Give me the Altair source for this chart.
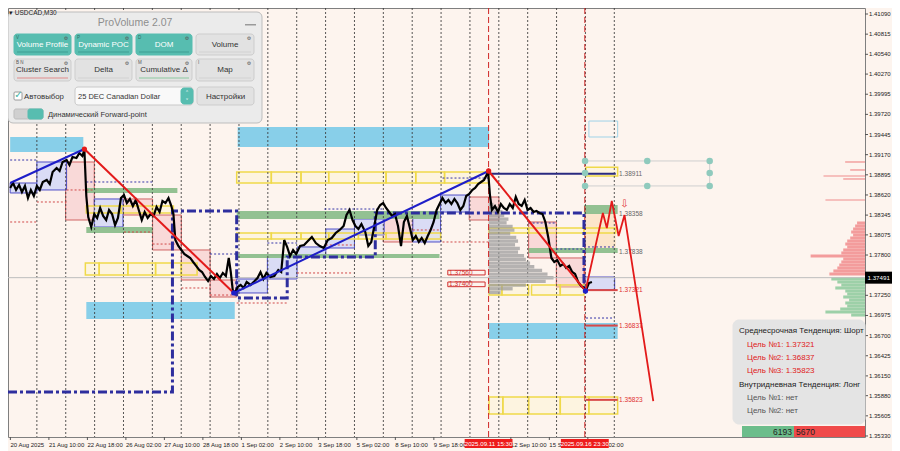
import altair as alt
import pandas as pd

# ------------------------------------------------------------------
# DATA  (time = trading hours since 20 Aug 2025 00:00, value = price)
# ------------------------------------------------------------------
PRICE_H = [1.8, 4.2, 6.7, 9.2, 11.6, 14.1, 16.6, 19.0, 21.5, 24.0,
           26.4, 28.9, 32.2, 34.7, 37.1, 40.4, 42.9, 45.4, 48.7, 51.1,
           53.6, 56.9, 59.3, 61.8, 63.5, 65.1, 66.7, 69.2, 71.7, 74.1,
           76.6, 79.1, 81.6, 84.0, 86.5, 89.0, 91.4, 93.9, 96.4, 98.8,
           101.3, 103.8, 106.2, 108.7, 111.2, 113.6, 116.1, 118.6, 121.0, 123.5,
           126.0, 128.4, 130.9, 133.4, 135.8, 137.5, 139.1, 141.6, 144.1, 146.5,
           149.0, 151.5, 153.9, 156.4, 158.9, 161.3, 163.8, 166.3, 168.7, 171.2,
           173.7, 176.1, 178.6, 181.1, 183.5, 185.2, 186.8, 188.5, 191.0, 193.4,
           195.9, 198.4, 201.6, 205.0, 207.4, 209.9, 212.3, 214.8, 218.1, 221.4,
           224.7, 227.1, 229.6, 232.1, 234.5, 237.0, 239.5, 242.8, 246.1, 249.3,
           252.6, 255.9, 259.2, 262.5, 265.8, 269.1, 272.4, 275.7, 279.0, 281.4,
           283.9, 286.4, 288.8, 291.3, 293.8, 297.0, 299.5, 302.0, 304.5, 306.9,
           309.4, 311.9, 314.3, 316.8, 319.3, 321.7, 324.2, 326.7, 329.1, 331.6,
           334.1, 336.5, 339.0, 341.5, 343.9, 346.4, 348.9, 351.3, 353.8, 356.3,
           358.7, 361.2, 363.7, 366.1, 368.6, 371.1, 373.5, 376.0, 378.5, 380.9,
           383.4, 385.9, 388.3, 390.8, 393.3, 395.7, 397.4, 399.1, 400.7, 402.3,
           404.8, 407.3, 409.7, 412.2, 414.7, 417.1, 419.6, 422.1, 424.5, 427.0,
           429.5, 431.9, 434.4, 436.9, 439.3, 441.8, 444.3, 446.7, 449.2, 451.7,
           454.1, 456.6, 459.1, 461.6, 464.0, 466.5, 469.0, 471.4, 473.9, 476.4,
           478.8, 480.5, 482.9, 485.4]
PRICE_P = [1.38715, 1.38783, 1.38688, 1.38756, 1.38660, 1.38742, 1.38578, 1.38688, 1.38606, 1.38742,
           1.38688, 1.38797, 1.38824, 1.38769, 1.38933, 1.38988, 1.38947, 1.39070, 1.39097, 1.39029,
           1.39138, 1.39124, 1.39193, 1.39152, 1.39234,
           1.38606, 1.38319, 1.38182, 1.38360, 1.38305, 1.38442, 1.38333, 1.38278, 1.38415, 1.38360,
           1.38210, 1.38305, 1.38578, 1.38619, 1.38510, 1.38565, 1.38469, 1.38551, 1.38415, 1.38278,
           1.38387, 1.38305, 1.38360, 1.38333, 1.38456, 1.38387, 1.38537, 1.38510, 1.38578, 1.38469,
           1.38360,
           1.38005, 1.37923, 1.37869, 1.37814, 1.37787, 1.37760, 1.37705, 1.37651, 1.37596, 1.37568,
           1.37500, 1.37445, 1.37514, 1.37473, 1.37541, 1.37486, 1.37555, 1.37514, 1.37760, 1.37568,
           1.37323, 1.37282,
           1.37364, 1.37391, 1.37350, 1.37432, 1.37391, 1.37445, 1.37486, 1.37568, 1.37473, 1.37555,
           1.37500, 1.37514, 1.37596, 1.37568, 1.38005, 1.37909, 1.37787, 1.37869, 1.37814, 1.37923,
           1.37937, 1.37991, 1.38046, 1.37964, 1.37923, 1.37896, 1.38005, 1.38032, 1.38101, 1.38142,
           1.38196, 1.38346, 1.38415, 1.38278, 1.38196, 1.38155, 1.38223, 1.38114, 1.37923, 1.37978,
           1.38196, 1.38415, 1.38483, 1.38510, 1.38442, 1.38387, 1.38333, 1.38360, 1.38196, 1.37923,
           1.38251, 1.38333, 1.38169, 1.38005, 1.38060, 1.37978, 1.38032, 1.37964, 1.38060, 1.38142,
           1.38251, 1.38415, 1.38496, 1.38578, 1.38510, 1.38551, 1.38496, 1.38565, 1.38510, 1.38415,
           1.38469, 1.38606, 1.38633, 1.38688, 1.38715, 1.38769, 1.38797, 1.38824, 1.38879, 1.38933,
           1.38606, 1.38415, 1.38469, 1.38387, 1.38496, 1.38442, 1.38415, 1.38496, 1.38442, 1.38592,
           1.38496, 1.38469, 1.38551, 1.38415, 1.38442, 1.38387, 1.38401, 1.38374, 1.38360, 1.38251,
           1.38032, 1.37760, 1.37705, 1.37732, 1.37651, 1.37678, 1.37623, 1.37651, 1.37568, 1.37541,
           1.37432, 1.37377, 1.37350, 1.37323, 1.37418, 1.37432]

X_TICK_H = [2, 34, 66, 98, 130, 162, 194, 226, 258, 290, 322, 354, 418, 450, 482]
X_TICK_LABELS = ["20 Aug 2025", "21 Aug 10:00", "22 Aug 18:00", "26 Aug 02:00", "27 Aug 10:00",
                 "28 Aug 18:00", "1 Sep 02:00", "2 Sep 10:00", "3 Sep 18:00", "5 Sep 02:00",
                 "8 Sep 10:00", "9 Sep 18:00", "12 Sep 10:00", "15 Sep 18:00", "17 Sep 02:00"]
Y_TICKS = [1.41090, 1.40815, 1.40540, 1.40270, 1.39995, 1.39720, 1.39445, 1.39170, 1.38895,
           1.38620, 1.38345, 1.38075, 1.37800, 1.37250, 1.36975, 1.36700, 1.36425,
           1.36150, 1.35880, 1.35605, 1.35330]
DAY_SEP_H = [24, 48, 72, 96, 120, 144, 168, 192, 216, 240, 264, 288, 312, 336, 360, 384,
             408, 432, 456, 480, 504]
CURRENT_PRICE = 1.37491
MARK_TIMES_H = [399.5, 479.5]
MARK_TIMES_TXT = ["2025.09.11 15:30", "2025.09.16 23:30"]

# zigzag swing points and forecast path
ZZ_H = [1.8, 63.5, 187.7, 399.5, 480.0]
ZZ_P = [1.38783, 1.39247, 1.37282, 1.38947, 1.37309]
FC_H = [480.0, 494.5, 497.8, 501.9, 507.6, 512.5, 536.4]
FC_P = [1.37309, 1.38374, 1.38169, 1.38538, 1.38060, 1.38346, 1.35807]

# dynamic POC step line
NAVY_H = [0, 136.7, 136.7, 190.1, 190.1, 232.1, 232.1, 305.3, 305.3, 478.8, 478.8]
NAVY_P = [1.35930, 1.35930, 1.38401, 1.38401, 1.37213, 1.37213, 1.37773, 1.37773, 1.38374,
          1.38374, 1.37323]

# zones: (start, end, top price, bottom price)
SKY_ZONES = [(1.8, 62.6, 1.39411, 1.39206), (190.9, 399.9, 1.39547, 1.39275),
             (65.1, 188.5, 1.37158, 1.36927), (399.9, 506.8, 1.36872, 1.36654)]
GREEN_ZONES = [(65.1, 140.8, 1.38715, 1.38647), (65.1, 120.2, 1.38182, 1.38101),
               (190.1, 358.7, 1.38401, 1.38292), (190.1, 358.7, 1.37814, 1.37760),
               (478.8, 506.8, 1.38483, 1.38360), (432.8, 506.8, 1.37896, 1.37828)]
BLUE_BOXES = [(1.8, 24.0, 1.38783, 1.38647), (24.0, 48.7, 1.39070, 1.38688),
              (71.7, 95.6, 1.38565, 1.38182), (190.1, 215.6, 1.37473, 1.37282),
              (215.6, 240.3, 1.37800, 1.37473), (240.3, 264.2, 1.37910, 1.37800),
              (264.2, 288.0, 1.38155, 1.37896), (288.0, 312.7, 1.38292, 1.38073),
              (336.5, 359.6, 1.38387, 1.37978), (359.6, 383.4, 1.38619, 1.38387),
              (478.8, 504.3, 1.37500, 1.37323)]
PINK_BOXES = [(47.9, 71.7, 1.39070, 1.38278), (95.6, 120.2, 1.38565, 1.38346),
              (120.2, 144.1, 1.38346, 1.37869), (144.1, 168.0, 1.37869, 1.37459),
              (168.0, 190.1, 1.37459, 1.37227), (311.9, 336.5, 1.38319, 1.37978),
              (383.4, 408.1, 1.38592, 1.38278), (432.8, 455.8, 1.38251, 1.37760),
              (455.8, 478.8, 1.37760, 1.37364)]
YELLOW_BOXES = [
    (65.1, 93.9, 1.38469, 1.38374), (93.9, 120.2, 1.38469, 1.38374), (120.2, 137.5, 1.38469, 1.38374),
    (64.3, 75.8, 1.37691, 1.37527), (75.8, 99.7, 1.37691, 1.37527), (99.7, 122.7, 1.37691, 1.37527),
    (122.7, 144.1, 1.37691, 1.37527), (144.1, 157.2, 1.37691, 1.37527),
    (190.1, 218.9, 1.38933, 1.38783), (218.9, 243.6, 1.38933, 1.38783), (243.6, 266.6, 1.38933, 1.38783),
    (266.6, 291.3, 1.38933, 1.38783), (291.3, 314.3, 1.38933, 1.38783), (314.3, 339.0, 1.38933, 1.38783),
    (339.0, 362.9, 1.38933, 1.38783), (362.9, 399.9, 1.38933, 1.38783),
    (190.1, 218.9, 1.38101, 1.38019), (218.9, 243.6, 1.38101, 1.38019), (243.6, 266.6, 1.38101, 1.38019),
    (266.6, 291.3, 1.38101, 1.38019), (291.3, 314.3, 1.38101, 1.38019), (314.3, 339.0, 1.38101, 1.38019),
    (339.0, 359.6, 1.38101, 1.38019),
    (399.9, 432.8, 1.38169, 1.38101), (432.8, 478.8, 1.38169, 1.38101), (478.8, 505.2, 1.38169, 1.38101),
    (399.9, 410.6, 1.37391, 1.37254), (410.6, 432.8, 1.37391, 1.37254), (435.2, 459.1, 1.37391, 1.37254),
    (459.1, 478.8, 1.37391, 1.37254),
    (399.9, 411.4, 1.35862, 1.35630), (411.4, 432.8, 1.35862, 1.35630), (432.8, 459.1, 1.35862, 1.35630),
    (459.1, 482.9, 1.35862, 1.35630), (482.9, 506.8, 1.35862, 1.35630),
    (480.5, 506.8, 1.38998, 1.38879)]
PEACH_ZONE = [(478.8, 505.2, 1.38374, 1.37896)]
CYAN_OUTLINE = [(482.9, 506.8, 1.39629, 1.39411)]

# dotted mid-lines: (start, end, price)
RED_DOTS = [(1.8, 24.0, 1.38251), (24.0, 48.7, 1.38524), (48.7, 71.7, 1.38688), (96.4, 120.2, 1.38114),
            (120.2, 144.1, 1.37950), (144.1, 168.0, 1.37350), (168.0, 190.1, 1.37254),
            (240.3, 287.0, 1.37555), (264.2, 288.0, 1.37937), (190.1, 232.1, 1.37145),
            (336.5, 359.6, 1.38142), (361.2, 399.9, 1.37978)]
BLUE_DOTS = [(1.8, 24.0, 1.39097), (65.1, 120.2, 1.38797), (168.0, 190.1, 1.37814), (263.0, 312.0, 1.38428),
             (215.6, 240.3, 1.37964), (361.2, 399.9, 1.38851), (432.8, 455.8, 1.38237),
             (455.8, 478.8, 1.37882), (478.8, 505.2, 1.37910), (480.5, 504.3, 1.36940)]

# target levels
LEVEL_RED = [1.37321, 1.36837, 1.35823]
LEVEL_GRAY = [1.38911, 1.38358, 1.37838]
LEVEL_START_H = 480.5
LEVEL_END_H = 506.8
LEVEL_LABEL_H = 508.0
NAVY_LEVEL = (399.9, 505.2, 1.38911)

# fibo-like tool
FIB_H = [479.7, 531.4, 583.3]
FIB_P = [1.39084, 1.38920, 1.38743]

# price tags
TAG_TXT = ["1.37560", "1.37400"]
TAG_P = [1.37560, 1.37400]
TAG_H = (365.6, 396.6)

# session volume profile anchored at the 11 Sep marker
VP_P = [1.38490, 1.38440, 1.38390, 1.38340, 1.38290, 1.38240, 1.38190, 1.38140, 1.38090, 1.38040,
        1.37990, 1.37940, 1.37890, 1.37840, 1.37790, 1.37740, 1.37690, 1.37640, 1.37590, 1.37540,
        1.37490, 1.37440, 1.37390, 1.37340, 1.37290]
VP_LEN = [4, 8, 11.5, 13, 16.5, 15, 20, 21.5, 18, 23, 24.5, 22, 26, 24.5, 29.5, 31, 34.5, 38, 44.5, 49,
          54, 47.5, 31, 20, 10]

# right-edge volume profile
RP_P = [1.38237, 1.38196, 1.38155, 1.38114, 1.38073, 1.38032, 1.37991, 1.37950, 1.37910, 1.37869,
        1.37828, 1.37787, 1.37746, 1.37705, 1.37664, 1.37623, 1.37582, 1.37541, 1.37473, 1.37432,
        1.37391, 1.37350, 1.37309, 1.37268, 1.37227, 1.37186, 1.37145, 1.37104, 1.37063, 1.37022,
        1.36981]
RP_LEN = [6.6, 8.2, 9.9, 11.5, 9.9, 12.3, 14.8, 16.4, 14.8, 18.1, 19.7, 45.2, 18.1, 19.7, 21.4,
          23.0, 26.3, 29.6, 28.0, 23.0, 19.7, 24.7, 16.4, 14.8, 18.1, 13.2, 16.4, 14.8, 20.6, 32.9,
          11.5]
RP_SPARSE_P = [1.39070, 1.38961, 1.38879, 1.38838, 1.38551]
RP_SPARSE_LEN = [16.5, 12.3, 34.5, 18.1, 32.9]

INFO_LINES = ["Среднесрочная Тенденция: Шорт", "Цель №1: 1.37321", "Цель №2: 1.36837",
              "Цель №3: 1.35823", "Внутридневная Тенденция: Лонг", "Цель №1: нет", "Цель №2: нет"]
BUY_SELL = [6193, 5670]

# ------------------------------------------------------------------
# LAYOUT / STYLE
# ------------------------------------------------------------------
BG = "#FDF4EE"
W, H = 857, 429
PAD_R, PAD_B = 27, 14
OFF = 8
X_DOMAIN = [0, 712.4]
Y_DOMAIN = [1.35316, 1.41172]
FONT = "Liberation Sans"
AX_FS = 6
XS = alt.Scale(domain=X_DOMAIN, nice=False, zero=False)
YS = alt.Scale(domain=Y_DOMAIN, nice=False, zero=False)
PANEL_DX = 5


def px2h(px):
    return X_DOMAIN[0] + (px - OFF) / W * (X_DOMAIN[1] - X_DOMAIN[0])


def py2p(py):
    return Y_DOMAIN[1] - (py - OFF) / H * (Y_DOMAIN[1] - Y_DOMAIN[0])


def xq(f="h"):
    return alt.X(f"{f}:Q", scale=XS, axis=None)


def yq(f="p"):
    return alt.Y(f"{f}:Q", scale=YS, axis=None)


def zone_layer(rows, **mark):
    df = pd.DataFrame(rows, columns=["h", "h2", "p", "p2"])
    return alt.Chart(df).mark_rect(**mark).encode(x=xq("h"), x2="h2", y=yq("p"), y2="p2")


def hline_layer(rows, **mark):
    df = pd.DataFrame(rows, columns=["h", "h2", "p"])
    return alt.Chart(df).mark_rule(**mark).encode(x=xq("h"), x2="h2", y=yq("p"))


layers = []

# background zones
layers.append(zone_layer(SKY_ZONES, color="#82CCE8", opacity=0.95))
layers.append(zone_layer(PEACH_ZONE, color="#FCE3C6", opacity=0.9))
layers.append(zone_layer(PINK_BOXES, fill="#F7D2D2", fillOpacity=0.8, stroke="#D06464", strokeWidth=1))
layers.append(zone_layer(BLUE_BOXES, fill="#D3D7F6", fillOpacity=0.85, stroke="#4F4FC8", strokeWidth=1))
layers.append(zone_layer(GREEN_ZONES, color="#8DBE8C", opacity=0.95))
layers.append(zone_layer(YELLOW_BOXES, fill="#FFF5C0", fillOpacity=0.3, stroke="#EFD94A", strokeWidth=1.5))
layers.append(zone_layer(CYAN_OUTLINE, fillOpacity=0, stroke="#9FD3E8", strokeWidth=1))

# day separators
sep_df = pd.DataFrame({"h": DAY_SEP_H})
layers.append(alt.Chart(sep_df).mark_rule(color="#3A3A3A", strokeDash=[2, 2], strokeWidth=1, opacity=0.85)
              .encode(x=xq("h")))

# session volume profile (grey)
vp_df = pd.DataFrame({"p": VP_P, "len": VP_LEN})
layers.append(alt.Chart(vp_df).transform_calculate(
    h=f"{MARK_TIMES_H[0]}", h2=f"{MARK_TIMES_H[0]} + datum.len",
    pt="datum.p + 0.00023", pb="datum.p - 0.00023").mark_rect(color="#9C9C9C", opacity=0.75)
    .encode(x=xq("h"), x2="h2", y=yq("pt"), y2="pb"))

# right volume profile
rp_df = pd.DataFrame({"p": RP_P, "len": RP_LEN})
rp_df["c"] = ["#F39C9C" if v > CURRENT_PRICE else "#9DD0A8" for v in RP_P]
layers.append(alt.Chart(rp_df).transform_calculate(
    h=f"{X_DOMAIN[1]} - datum.len", h2=f"{X_DOMAIN[1]}",
    pt="datum.p + 0.00021", pb="datum.p - 0.00021").mark_rect()
    .encode(x=xq("h"), x2="h2", y=yq("pt"), y2="pb", color=alt.Color("c:N", scale=None)))
rs_df = pd.DataFrame({"p": RP_SPARSE_P, "len": RP_SPARSE_LEN})
layers.append(alt.Chart(rs_df).transform_calculate(h=f"{X_DOMAIN[1]} - datum.len", h2=f"{X_DOMAIN[1]}")
              .mark_rule(color="#F08C8C", strokeWidth=1.2).encode(x=xq("h"), x2="h2", y=yq("p")))

# current price line
layers.append(alt.Chart(pd.DataFrame({"p": [CURRENT_PRICE]})).mark_rule(color="#BDBDBD", strokeWidth=1)
              .encode(y=yq("p")))

# marker time lines
mt_df = pd.DataFrame({"h": MARK_TIMES_H, "t": MARK_TIMES_TXT})
layers.append(alt.Chart(mt_df).mark_rule(color="#D02828", strokeDash=[6, 3], strokeWidth=1)
              .encode(x=xq("h")))

# dotted mid lines
layers.append(hline_layer(RED_DOTS, color="#D04848", strokeDash=[2, 2], strokeWidth=1))
layers.append(hline_layer(BLUE_DOTS, color="#3535A8", strokeDash=[2, 2], strokeWidth=1))

# POC step line
navy_df = pd.DataFrame({"h": NAVY_H, "p": NAVY_P, "i": list(range(len(NAVY_H)))})
layers.append(alt.Chart(navy_df).mark_line(color="#2E2E9E", strokeWidth=3, strokeDash=[9, 3, 3, 3])
              .encode(x=xq("h"), y=yq("p"), order="i:Q"))

# price line
price_df = pd.DataFrame({"h": PRICE_H, "p": PRICE_P})
layers.append(alt.Chart(price_df).mark_line(color="#000000", strokeWidth=2.2).encode(x=xq("h"), y=yq("p")))

# level lines and labels
layers.append(hline_layer([NAVY_LEVEL], color="#2A2A80", strokeWidth=2))
layers.append(hline_layer([(LEVEL_START_H, LEVEL_END_H, v) for v in LEVEL_RED], color="#D84848", strokeWidth=2))
lvl_df = pd.DataFrame({"p": LEVEL_RED + LEVEL_GRAY,
                       "t": [f"{v:.5f}" for v in LEVEL_RED + LEVEL_GRAY],
                       "c": ["#E03030"] * 3 + ["#666666"] * 3})
lvl_df["h"] = LEVEL_LABEL_H
layers.append(alt.Chart(lvl_df).mark_text(align="left", baseline="middle", font=FONT, fontSize=6.5)
              .encode(x=xq("h"), y=yq("p"), text="t:N", color=alt.Color("c:N", scale=None)))

# zigzag
seg = pd.DataFrame({"h": ZZ_H[:-1], "h2": ZZ_H[1:], "p": ZZ_P[:-1], "p2": ZZ_P[1:]})
seg["c"] = ["#1E1EC8" if b > a else "#E31A1A" for a, b in zip(ZZ_P[:-1], ZZ_P[1:])]
layers.append(alt.Chart(seg).mark_rule(strokeWidth=2)
              .encode(x=xq("h"), x2="h2", y=yq("p"), y2="p2", color=alt.Color("c:N", scale=None)))
fc_df = pd.DataFrame({"h": FC_H, "p": FC_P})
layers.append(alt.Chart(fc_df).mark_line(color="#E31A1A", strokeWidth=1.8).encode(x=xq("h"), y=yq("p")))
dots = pd.DataFrame({"h": ZZ_H[1:], "p": ZZ_P[1:]})
dots["c"] = ["#E31A1A" if ZZ_P[i] > ZZ_P[i - 1] else "#1E1EC8" for i in range(1, len(ZZ_P))]
layers.append(alt.Chart(dots).mark_circle(size=28, opacity=1)
              .encode(x=xq("h"), y=yq("p"), color=alt.Color("c:N", scale=None)))
layers.append(alt.Chart(pd.DataFrame({"h": [FC_H[5]], "p": [FC_P[3] - 0.0004], "t": ["⇩"]}))
              .mark_text(font="DejaVu Sans", fontSize=10, color="#E03030", baseline="middle")
              .encode(x=xq("h"), y=yq("p"), text="t:N"))

# fibo tool
fib_lines = pd.DataFrame({"h": [FIB_H[0], FIB_H[0], FIB_H[2]], "h2": [FIB_H[2], FIB_H[2], FIB_H[2]],
                          "p": [FIB_P[0], FIB_P[2], FIB_P[0]], "p2": [FIB_P[0], FIB_P[2], FIB_P[2]]})
layers.append(alt.Chart(fib_lines).mark_rule(color="#CFCFCF", strokeWidth=1)
              .encode(x=xq("h"), x2="h2", y=yq("p"), y2="p2"))
fib_pts = pd.DataFrame({"h": FIB_H + FIB_H + [FIB_H[0], FIB_H[2]],
                        "p": [FIB_P[0]] * 3 + [FIB_P[2]] * 3 + [FIB_P[1]] * 2})
layers.append(alt.Chart(fib_pts).mark_circle(size=42, color="#8FCABD", opacity=1)
              .encode(x=xq("h"), y=yq("p")))

# price tags
tag_df = pd.DataFrame({"t": TAG_TXT, "p": TAG_P})
tag_df["h"], tag_df["h2"] = TAG_H
layers.append(alt.Chart(tag_df).transform_calculate(pt="datum.p + 0.00032", pb="datum.p - 0.00032")
              .mark_rect(fill=BG, stroke="#D03030", strokeWidth=1)
              .encode(x=xq("h"), x2="h2", y=yq("pt"), y2="pb"))
layers.append(alt.Chart(tag_df).transform_calculate(hl="datum.h + 1")
              .mark_text(align="left", baseline="middle", font=FONT, fontSize=6.5, color="#D03030")
              .encode(x=xq("hl"), y=yq("p"), text="t:N"))

# ------------------------------------------------------------------
# AXES (price scale on the right, time scale at the bottom)
# ------------------------------------------------------------------
yt = pd.DataFrame({"p": Y_TICKS, "t": [f"{v:.5f}" for v in Y_TICKS]})
yt["h"], yt["h2"], yt["hl"] = px2h(OFF + W), px2h(OFF + W + 3), px2h(OFF + W + 4)
layers.append(alt.Chart(yt).mark_rule(color="#555555", strokeWidth=1)
              .encode(x=xq("h"), x2="h2", y=yq("p")))
layers.append(alt.Chart(yt).mark_text(align="left", baseline="middle", font=FONT, fontSize=AX_FS, color="#222222")
              .encode(x=xq("hl"), y=yq("p"), text="t:N"))
xt = pd.DataFrame({"h": X_TICK_H, "t": X_TICK_LABELS})
xt["p"], xt["p2"], xt["pl"] = py2p(OFF + H), py2p(OFF + H + 3), py2p(OFF + H + 8)
layers.append(alt.Chart(xt).mark_rule(color="#555555", strokeWidth=1)
              .encode(x=xq("h"), y=yq("p"), y2="p2"))
layers.append(alt.Chart(xt).mark_text(align="left", baseline="middle", font=FONT, fontSize=AX_FS, color="#222222")
              .encode(x=xq("h"), y=yq("pl"), text="t:N"))

# ------------------------------------------------------------------
# UI overlays (page-pixel layout, mapped through the same scales)
# ------------------------------------------------------------------
TEAL = "#57BDB0"
GRAY_BTN = "#E2E2E2"


def ui_rects(rows, radius=0, sw=1, dx=0):
    df = pd.DataFrame(rows, columns=["x", "x2", "y", "y2", "fill", "stroke"])
    df["h"] = [px2h(v + dx) for v in df["x"]]
    df["h2"] = [px2h(v + dx) for v in df["x2"]]
    df["p"] = [py2p(v) for v in df["y"]]
    df["p2"] = [py2p(v) for v in df["y2"]]
    return alt.Chart(df).mark_rect(cornerRadius=radius, strokeWidth=sw).encode(
        x=xq("h"), x2="h2", y=yq("p"), y2="p2",
        fill=alt.Fill("fill:N", scale=None), stroke=alt.Stroke("stroke:N", scale=None))


def ui_texts(rows, align="left", font=FONT, dx=0):
    df = pd.DataFrame(rows, columns=["t", "x", "y", "c", "s"])
    df["h"] = [px2h(v + dx) for v in df["x"]]
    df["p"] = [py2p(v) for v in df["y"]]
    return alt.Chart(df).mark_text(align=align, baseline="middle", font=font).encode(
        x=xq("h"), y=yq("p"), text="t:N", color=alt.Color("c:N", scale=None),
        size=alt.Size("s:Q", scale=None))


D = PANEL_DX
layers.append(ui_rects([(3, 257, 12, 123, "#EBEBEB", "#BDBDBD")], radius=5, dx=D))
btns = [(9, 66, 34, 55, TEAL, TEAL), (70, 127, 34, 55, TEAL, TEAL), (131, 187, 34, 55, TEAL, TEAL),
        (191, 249, 34, 55, GRAY_BTN, "#CDCDCD"),
        (9, 66, 59, 81, GRAY_BTN, "#CDCDCD"), (70, 127, 59, 81, GRAY_BTN, "#CDCDCD"),
        (131, 187, 59, 81, GRAY_BTN, "#CDCDCD"), (191, 249, 59, 81, GRAY_BTN, "#CDCDCD"),
        (192, 249, 87, 105, GRAY_BTN, "#CDCDCD"), (70, 188, 87, 105, "#F9F9F9", "#C9C9C9"),
        (176, 188, 88, 104, TEAL, TEAL)]
layers.append(ui_rects(btns, radius=3, dx=D))
layers.append(ui_rects([(9, 17, 92, 100, "#FFFFFF", "#9A9A9A")], radius=1, dx=D))
layers.append(ui_rects([(9, 38, 109, 119, "#D0D0D0", "#BDBDBD"), (23, 38, 109, 119, TEAL, TEAL)], radius=2, dx=D))
strips = [(12, 63, 51.5, 52.5, "#3F9D91", "#3F9D91"), (73, 124, 51.5, 52.5, "#3F9D91", "#3F9D91"),
          (134, 184, 51.5, 52.5, "#3F9D91", "#3F9D91"), (194, 246, 51.5, 52.5, "#D2D2D2", "#D2D2D2"),
          (12, 63, 77.5, 78.5, "#E08C8C", "#E08C8C"), (73, 124, 77.5, 78.5, "#D2D2D2", "#D2D2D2"),
          (134, 184, 77.5, 78.5, "#8CC8A0", "#8CC8A0"), (194, 246, 77.5, 78.5, "#D2D2D2", "#D2D2D2"),
          (240, 251, 24, 25.5, "#9A9A9A", "#9A9A9A")]
layers.append(ui_rects(strips, sw=0, dx=D))
layers.append(ui_texts([("ProVolume 2.07", 130, 23, "#8E8E8E", 10.5)], align="center", dx=D))
layers.append(ui_texts([("Volume Profile", 37.5, 44.5, "#FFFFFF", 8), ("Dynamic POC", 98.5, 44.5, "#FFFFFF", 8),
                        ("DOM", 159, 44.5, "#FFFFFF", 8), ("Volume", 220, 44.5, "#333333", 8),
                        ("Cluster Search", 37.5, 70, "#333333", 8), ("Delta", 98.5, 70, "#333333", 8),
                        ("Cumulative Δ", 159, 70, "#333333", 8), ("Map", 220, 70, "#333333", 8),
                        ("Настройки", 220.5, 96.5, "#333333", 8)], align="center", dx=D))
layers.append(ui_texts([("V", 11, 37.5, "#2F6F66", 4.5), ("P", 72, 37.5, "#2F6F66", 4.5),
                        ("D", 133, 37.5, "#2F6F66", 4.5), ("B N", 11, 62.5, "#555555", 4.5),
                        ("M", 133, 62.5, "#555555", 4.5), ("I", 193, 62.5, "#555555", 4.5)], dx=D))
layers.append(ui_texts([("⚙", 61, 37.5, "#555555", 5), ("⚙", 122, 37.5, "#555555", 5),
                        ("⚙", 182, 37.5, "#555555", 5), ("⚙", 244, 37.5, "#555555", 5),
                        ("⚙", 61, 62.5, "#555555", 5), ("⚙", 122, 62.5, "#555555", 5),
                        ("⚙", 182, 62.5, "#555555", 5), ("⚙", 244, 62.5, "#555555", 5),
                        ("✓", 13.5, 95, "#3DB3A3", 10), ("˄", 182, 92.5, "#FFFFFF", 6),
                        ("˅", 182, 100.5, "#FFFFFF", 6)], align="center", font="DejaVu Sans", dx=D))
layers.append(ui_texts([("Автовыбор", 19, 96.5, "#333333", 7.8),
                        ("25 DEC Canadian Dollar", 73, 96.5, "#333333", 7.5),
                        ("Динамический Forward-point", 43, 114.5, "#333333", 7.5)], dx=D))
layers.append(ui_texts([("▾ USDCAD,M30", 9, 12.5, "#222222", 6.5)]))

# info box
layers.append(ui_rects([(733, 865, 320, 424, "#E4E4E4", "#E4E4E4")], radius=6))
info_x = [739, 747, 747, 747, 739, 747, 747]
info_y = [331, 345, 358, 371, 385, 398, 411]
info_c = ["#222222", "#E02020", "#E02020", "#E02020", "#222222", "#555555", "#555555"]
layers.append(ui_texts([(t, x, y, c, 8) for t, x, y, c in zip(INFO_LINES, info_x, info_y, info_c)]))
layers.append(ui_rects([(742, 794, 426, 437, "#6CBD8B", "#6CBD8B"),
                        (794, OFF + W, 426, 437, "#F04A4A", "#F04A4A")], sw=0))
layers.append(ui_texts([(str(BUY_SELL[0]), 792, 431.5, "#222222", 8.5)], align="right"))
layers.append(ui_texts([(str(BUY_SELL[1]), 796, 431.5, "#222222", 8.5)]))

# current price tag on the axis
cp_df = pd.DataFrame({"p": [CURRENT_PRICE], "t": [f"{CURRENT_PRICE:.5f}"]})
cp_df["h"], cp_df["h2"], cp_df["ht"] = px2h(OFF + W), px2h(OFF + W + PAD_R), px2h(OFF + W + 2.5)
layers.append(alt.Chart(cp_df).transform_calculate(pt="datum.p + 0.00082", pb="datum.p - 0.00082")
              .mark_rect(color="#000000").encode(x=xq("h"), x2="h2", y=yq("pt"), y2="pb"))
layers.append(alt.Chart(cp_df).mark_text(align="left", baseline="middle", font=FONT, fontSize=6.2, color="#FFFFFF")
              .encode(x=xq("ht"), y=yq("p"), text="t:N"))

# marker time labels on the time axis
mt_df["h1"] = mt_df["h"] - 19.9
mt_df["h2"] = mt_df["h"] + 19.9
mt_df["p1"], mt_df["p2"], mt_df["pt"] = py2p(OFF + H + 2), py2p(OFF + H + 11), py2p(OFF + H + 6.5)
layers.append(alt.Chart(mt_df).mark_rect(color="#EE1C1C").encode(x=xq("h1"), x2="h2", y=yq("p1"), y2="p2"))
layers.append(alt.Chart(mt_df).mark_text(align="center", baseline="middle", font=FONT, fontSize=6.2, color="#FFFFFF")
              .encode(x=xq("h"), y=yq("pt"), text="t:N"))

chart = alt.layer(*layers).properties(
    width=W, height=H,
    autosize=alt.AutoSizeParams(type="none"),
    padding={"left": 0, "top": 0, "right": PAD_R, "bottom": PAD_B},
).configure(background=BG).configure_view(stroke="#7F7F7F", strokeWidth=1, fill=BG)

chart.save("out.html", embed_options={"renderer": "svg", "actions": False})
